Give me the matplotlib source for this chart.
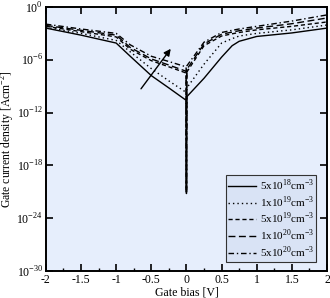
import numpy as np
import matplotlib
matplotlib.use("Agg")
import matplotlib.pyplot as plt
from matplotlib.ticker import FixedLocator, MultipleLocator

plt.rcParams['font.family'] = ['Liberation Serif', 'DejaVu Serif']
plt.rcParams['mathtext.fontset'] = 'custom'
plt.rcParams['mathtext.rm'] = 'Liberation Serif'

# Gate bias points [V] and log10 of current density for each doping
x_pts = [-2.0, -1.5, -1.0, -0.8, -0.5, -0.25, -0.005, 0.0, 0.005, 0.25, 0.5, 0.65, 0.75, 1.0, 1.5, 2.0]

logj_5e18 = [-2.4, -3.2, -4.1, -5.6, -7.8, -9.2, -10.6, -21.2, -10.2, -8.1, -5.7, -4.4, -3.9, -3.35, -2.95, -2.4]
logj_1e19 = [-2.3, -3.0, -3.8, -5.1, -7.0, -8.4, -9.7, -21.0, -9.2, -6.5, -4.1, -3.6, -3.3, -3.0, -2.6, -2.05]
logj_5e19 = [-2.2, -2.8, -3.4, -4.8, -6.1, -6.8, -7.5, -21.0, -7.4, -4.4, -3.3, -3.05, -2.9, -2.6, -2.2, -1.7]
logj_1e20 = [-2.1, -2.65, -3.2, -4.6, -5.9, -6.6, -7.3, -21.0, -7.1, -4.2, -3.1, -2.85, -2.7, -2.4, -1.9, -1.25]
logj_5e20 = [-1.95, -2.5, -3.0, -4.3, -5.6, -6.2, -6.8, -21.0, -6.7, -4.0, -2.9, -2.65, -2.5, -2.2, -1.6, -0.9]

labels = [r'5x10$^{18}$cm$^{-3}$', r'1x10$^{19}$cm$^{-3}$', r'5x10$^{19}$cm$^{-3}$',
          r'1x10$^{20}$cm$^{-3}$', r'5x10$^{20}$cm$^{-3}$']
series = [logj_5e18, logj_1e19, logj_5e19, logj_1e20, logj_5e20]
styles = ['-', (0, (1, 2.2)), (0, (3, 2)), (0, (5, 2.5)), (0, (4, 2, 1, 2))]

x_ticks = [-2, -1.5, -1, -0.5, 0, 0.5, 1, 1.5, 2]
x_tick_labels = ['-2', '-1.5', '-1', '-0.5', '0', '0.5', '1', '1.5', '2']
y_tick_exp = [0, -6, -12, -18, -24, -30]

fig = plt.figure(figsize=(3.30, 2.98), dpi=100)
ax = fig.add_axes([0.139, 0.0906, 0.852, 0.886])
ax.set_facecolor('#e6eefc')

for vals, ls, lab in zip(series, styles, labels):
    ax.plot(x_pts, 10.0 ** np.array(vals), color='black', linestyle=ls, linewidth=1.0, label=lab)

ax.set_yscale('log')
ax.set_xlim(-2, 2)
ax.set_ylim(1e-30, 1e0)
ax.yaxis.set_major_locator(FixedLocator([10.0 ** e for e in y_tick_exp]))
ax.yaxis.set_minor_locator(FixedLocator([]))
ax.set_yticklabels([r'10$^{%d}$' % e for e in y_tick_exp])
ax.set_xticks(x_ticks)
ax.set_xticklabels(x_tick_labels)
ax.xaxis.set_minor_locator(MultipleLocator(0.25))
ax.tick_params(which='major', direction='in', length=5, width=1.2, labelsize=8.5,
               top=True, right=True, pad=2)
ax.tick_params(which='minor', direction='in', length=2.5, width=1.0, top=False, right=False)
for s in ax.spines.values():
    s.set_linewidth(1.4)

ax.set_xlabel('Gate bias [V]', fontsize=8.6, labelpad=0.5)
ax.set_ylabel(r'Gate current density [Acm$^{-2}$]', fontsize=8.4)
ax.yaxis.set_label_coords(-0.103, 0.5)

ax.annotate('', xy=(-0.2, 10.0 ** -4.5), xytext=(-0.67, 10.0 ** -9.55),
            arrowprops=dict(arrowstyle='-|>', color='black', lw=1.0, mutation_scale=10))

leg = ax.legend(loc='lower right', fontsize=8, frameon=True, fancybox=False,
                handlelength=2.5, handletextpad=0.35, borderpad=0.2, labelspacing=0.12,
                borderaxespad=0.0, bbox_to_anchor=(0.962, 0.035))
leg.get_frame().set_facecolor('#d9e3f5')
leg.get_frame().set_edgecolor('#333333')
leg.get_frame().set_linewidth(0.8)
leg.get_frame().set_alpha(1.0)

fig.savefig('out.png', dpi=100)
